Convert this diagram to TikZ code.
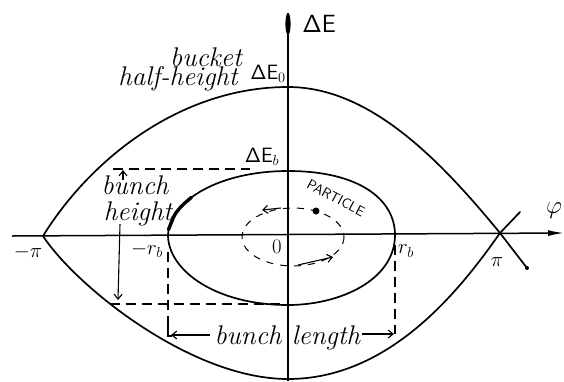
\documentclass[tikz,border=0pt]{standalone}
\usetikzlibrary{arrows.meta}
\begin{document}
\begin{tikzpicture}[x=1pt,y=-1pt,
  curve/.style={line width=1.7pt,line join=round,line cap=round},
  axisline/.style={line width=1.5pt},
  dashline/.style={line width=1.2pt,dash pattern=on 10pt off 6pt},
  orbit/.style={line width=1pt,dash pattern=on 7pt off 7pt},
  ann/.style={line width=1.1pt,-{Straight Barb[length=5pt,width=8pt,line width=1.1pt]}},
  hand/.style={font=\fontsize{27}{29}\selectfont\itshape,inner sep=0pt,anchor=base},
  sym/.style={font=\fontsize{21}{22}\selectfont,inner sep=0pt},
]
\useasboundingbox (0,0) rectangle (564,381);

% axes
\coordinate (hl) at (12,236);
\coordinate (hr) at (564,233);
\coordinate (vt) at (288,13);
\coordinate (vb) at (288,381);
\draw[axisline,-{Latex[length=16pt,width=6pt]}] (hl) -- (hr);
\draw[axisline] (vb) -- (vt);
\fill (288,24) ellipse (2.6 and 11);

% separatrix (bucket)
\coordinate (mpipt) at (43,236);
\coordinate (pipt) at (500,233);
\coordinate (top) at (288,87);
\coordinate (bot) at (288,379);
\coordinate (tailA) at (527,268);
\coordinate (tailB) at (520,212);
\draw[curve] (mpipt) .. controls (90,160) and (180,87) .. (top)
  .. controls (370,87) and (440,160) .. (pipt) -- (tailA);
\draw[curve] (mpipt) .. controls (75,285) and (190,379) .. (bot)
  .. controls (390,379) and (460,290) .. (pipt) -- (tailB);
\fill (tailA) circle (2);

% bunch
\coordinate (bl) at (168,235);
\coordinate (bt) at (288,171);
\coordinate (br) at (395,235);
\coordinate (bb) at (288,305);
\draw[curve] (bl) .. controls (170,200) and (220,171) .. (bt)
  .. controls (360,171) and (395,200) .. (br)
  .. controls (395,280) and (340,305) .. (bb)
  .. controls (215,305) and (168,270) .. (bl) -- cycle;
\draw[line width=3.4pt,line cap=round] plot[smooth] coordinates {(168.5,229.6) (174.7,214.9) (182,205.7) (191.5,197.3)};

% orbit of particle
\draw[orbit] (293,237) ellipse (51 and 29);
\coordinate (oa1) at (281,208);
\coordinate (oa2) at (262,210);
\coordinate (ob1) at (298,265);
\coordinate (ob2) at (333,257);
\draw[ann] (oa1) -- (oa2);
\draw[ann] (ob1) -- (ob2);
\node[circle,fill,inner sep=0pt,minimum size=7pt] (pdot) at (316,211) {};
\node[font=\sffamily\fontsize{14}{14}\selectfont,rotate=-28,inner sep=0pt] (ptxt) at (336,198) {PARTICLE};

% dashed guides
\coordinate (dt1) at (113,169);
\coordinate (dt2) at (250,169);
\coordinate (db1) at (110,304);
\coordinate (db2) at (286,304);
\draw[dashline] (dt1) -- (dt2);
\draw[dashline] (db1) -- (db2);
\coordinate (lv1) at (168,252);
\coordinate (lv2) at (168,328);
\coordinate (rv1) at (395,245);
\coordinate (rv2) at (395,334);
\draw[dashline] (lv1) -- (lv2);
\draw[dashline] (rv1) -- (rv2);
\draw[line width=1.1pt] (168,326) -- (168,336) -- (172,336);

% bunch height arrows
\coordinate (hu1) at (123,180);
\coordinate (hu2) at (123,170);
\coordinate (hd1) at (120,224);
\coordinate (hd2) at (118,300);
\draw[ann] (hu1) -- (hu2);
\draw[ann] (hd1) -- (hd2);

% bunch length arrows
\coordinate (la1) at (210,335);
\coordinate (la2) at (171,335);
\coordinate (ra1) at (362,334);
\coordinate (ra2) at (394,334);
\draw[ann] (la1) -- (la2);
\draw[ann] (ra1) -- (ra2);

% labels
\node[font=\fontsize{30}{30}\selectfont,inner sep=0pt] (dE) at (319,24) {$\mathsf{\Delta E}$};
\node[hand] (bucket) at (206,66) {bucket};
\node[hand] (halfh) at (178,85) {half-height};
\node[sym] (dE0) at (268,74) {$\mathsf{\Delta E}_0$};
\node[sym] (dEb) at (262,157) {$\mathsf{\Delta E}_b$};
\node[font=\fontsize{26}{26}\selectfont,inner sep=0pt] (phi) at (554,211) {$\varphi$};
\node[sym] (mpi) at (28,252) {$-\pi$};
\node[sym] (pi) at (497,262) {$\pi$};
\node[sym] (mrb) at (147,250) {$-r_b$};
\node[sym] (rb) at (406,251) {$r_b$};
\node[sym] (zero) at (277,247) {$0$};
\node[hand] (bh1) at (135,194) {bunch};
\node[hand] (bh2) at (138,220) {height};
\node[hand] (bl1) at (248,344) {bunch};
\node[hand] (bl2) at (326,344) {length};
\end{tikzpicture}
\end{document}
